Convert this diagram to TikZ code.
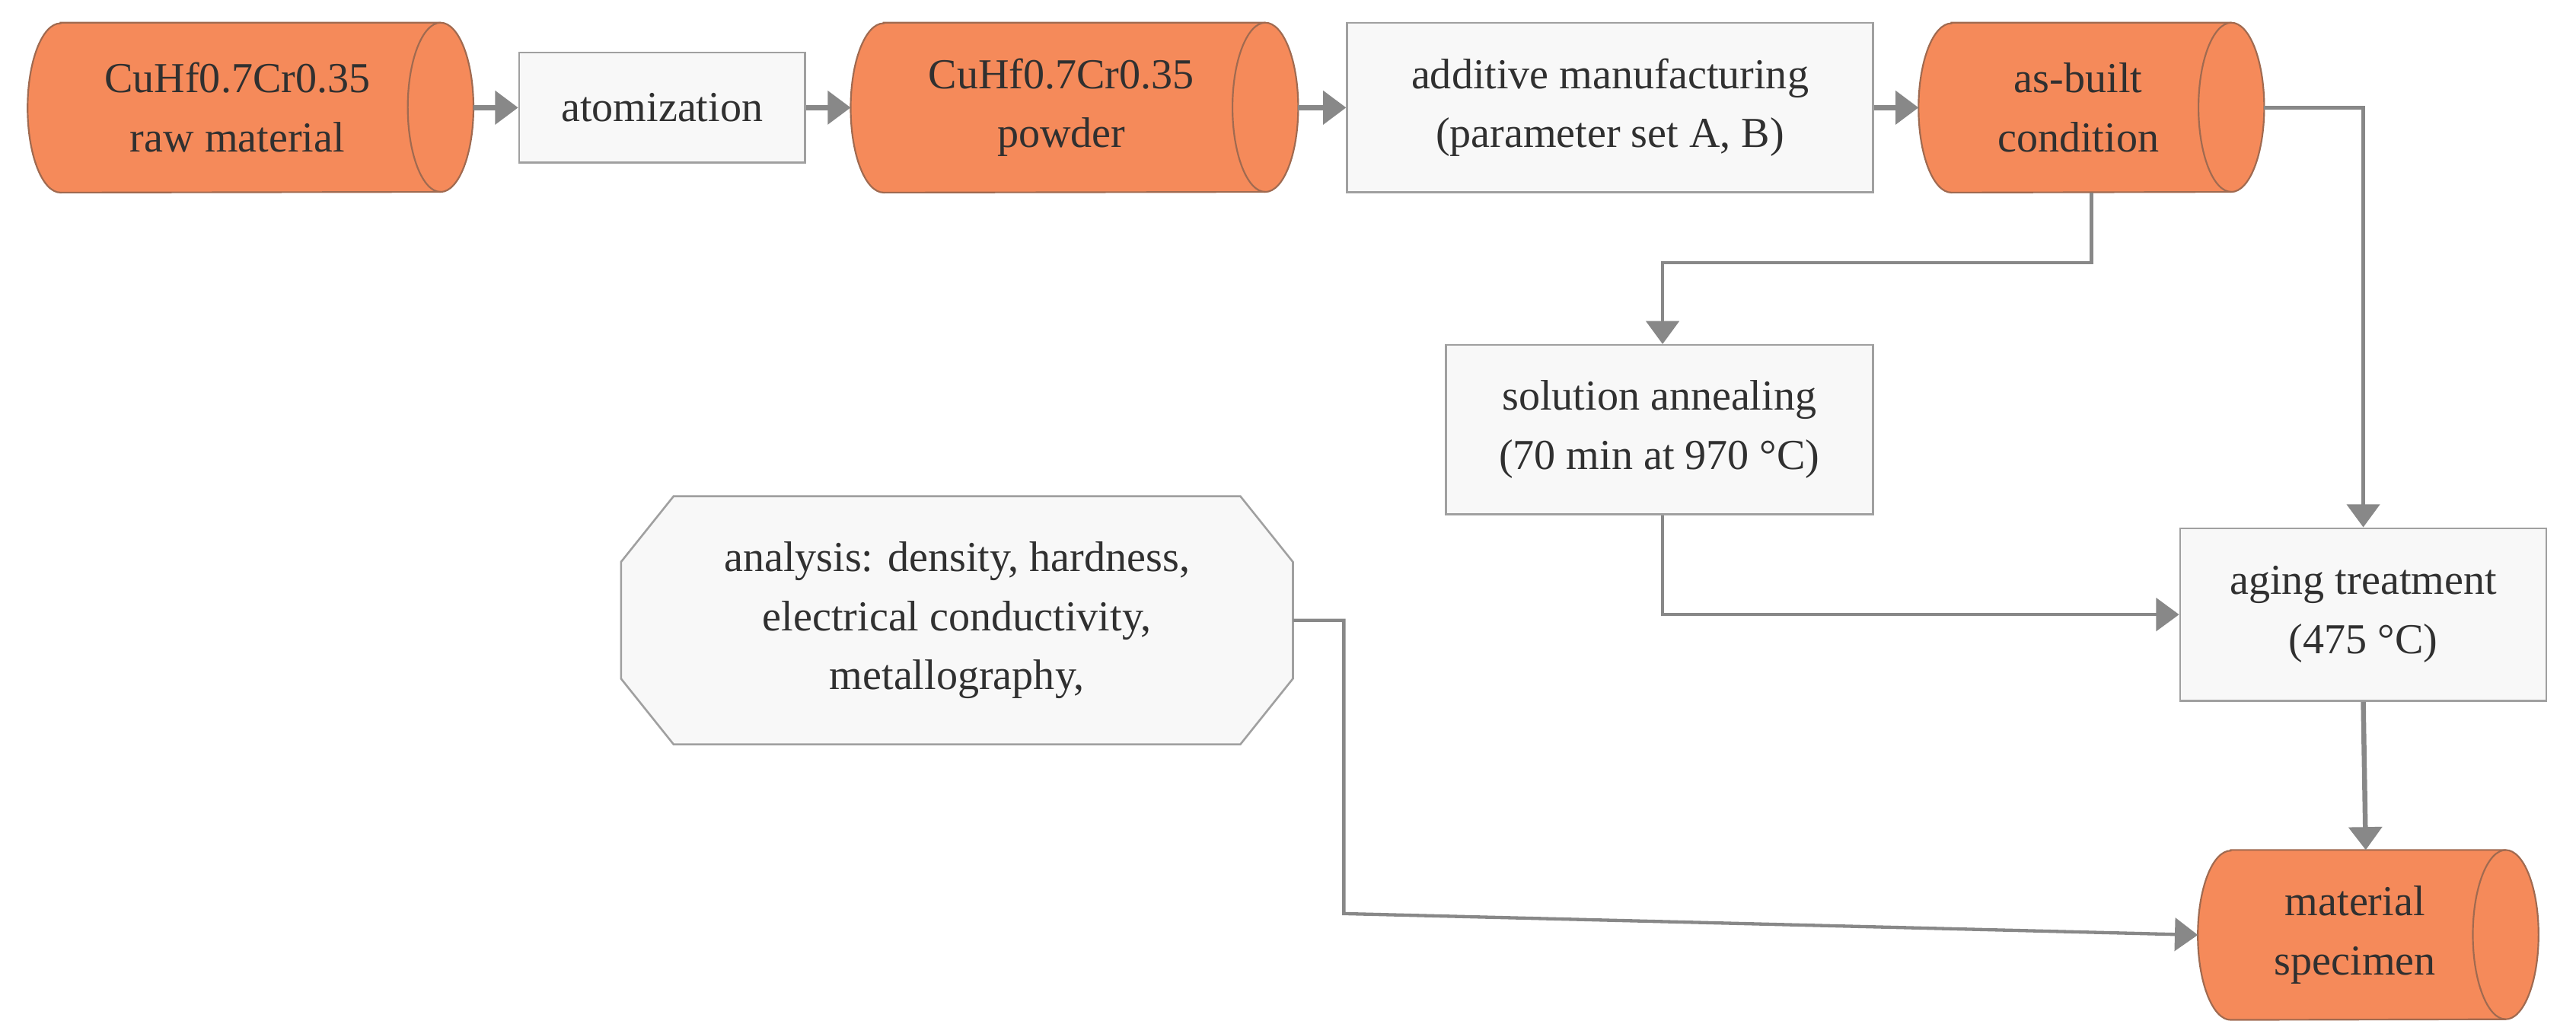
\documentclass[tikz,border=0pt]{standalone}
\usepackage{fontspec}
\setmainfont{Liberation Serif}
\usetikzlibrary{arrows.meta,shapes.geometric}
\definecolor{cyl}{HTML}{F58A5A}
\definecolor{cylb}{HTML}{A06A50}
\definecolor{boxf}{HTML}{F8F8F8}
\definecolor{boxb}{HTML}{A0A0A0}
\definecolor{arr}{HTML}{888888}
\definecolor{txt}{HTML}{303030}
\newcommand{\mycyl}[1]{%
  \fill[cyl,draw=cylb,line width=1pt] ([xshift=20pt]#1.north west) -- ([xshift=-20pt]#1.north east)
    arc[start angle=90,end angle=-90,x radius=20pt,y radius=51.5pt]
    -- ([xshift=20pt]#1.south west)
    arc[start angle=270,end angle=90,x radius=20pt,y radius=51.5pt] -- cycle;
  \draw[cylb,line width=1pt] ([xshift=-20pt]#1.north east)
    arc[start angle=90,end angle=270,x radius=20pt,y radius=51.5pt];
  \node[text=txt,font=\fontsize{26}{36}\selectfont,align=center] at ([xshift=-8pt]#1.center) {\csname cyltext#1\endcsname};}
\begin{document}
\begin{tikzpicture}[x=1pt,y=1pt,
  box/.style={draw=boxb,fill=boxf,line width=1.2pt,align=center,text=txt,font=\fontsize{26}{36}\selectfont,inner sep=0pt},
  cylnode/.style={inner sep=0pt},
  con/.style={draw=arr,line width=3pt,-{Triangle[length=14pt,width=20pt]}}]
\useasboundingbox (0,0) rectangle (1568,621);
% cylinder placeholders
\node[cylnode,minimum width=271pt,minimum height=103pt] (c1) at (152.5,555.5) {};
\node[cylnode,minimum width=272pt,minimum height=103pt] (c2) at (654,555.5) {};
\node[cylnode,minimum width=210pt,minimum height=103pt] (c3) at (1273,555.5) {};
\node[cylnode,minimum width=207pt,minimum height=103pt] (c4) at (1441.5,52) {};
\expandafter\def\csname cyltextc1\endcsname{CuHf0.7Cr0.35\\raw material}
\expandafter\def\csname cyltextc2\endcsname{CuHf0.7Cr0.35\\powder}
\expandafter\def\csname cyltextc3\endcsname{as-built\\condition}
\expandafter\def\csname cyltextc4\endcsname{material\\specimen}
\mycyl{c1}\mycyl{c2}\mycyl{c3}\mycyl{c4}
\node[box,minimum width=174pt,minimum height=67pt] (at) at (403,555.5) {atomization};
\node[box,minimum width=320pt,minimum height=103pt] (am) at (980,555.5) {additive manufacturing\\(parameter set A, B)};
\node[box,minimum width=260pt,minimum height=103pt] (sa) at (1010,359.5) {solution annealing\\(70 min at 970 °C)};
\node[box,minimum width=223pt,minimum height=105pt] (ag) at (1438.5,247) {aging treatment\\(475 °C)};
\coordinate (o) at (582.5,243.5);
\draw[boxb,fill=boxf,line width=1.2pt] (410,319) -- (755,319) -- (787,279) -- (787,208) -- (755,168) -- (410,168) -- (378,208) -- (378,279) -- cycle;
\node[text=txt,font=\fontsize{26}{36}\selectfont,align=center,inner sep=0pt,minimum width=409pt,minimum height=151pt] (an) at (o) {analysis: density, hardness,\\electrical conductivity,\\metallography,};
% connectors
\draw[con] (c1.east) -- (at.west);
\draw[con] (at.east) -- (c2.west);
\draw[con] (c2.east) -- (am.west);
\draw[con] (am.east) -- (c3.west);
\draw[con,line width=2pt] (c3.east) -| (ag.north);
\draw[con,line width=2pt] (c3.south) |- (1012,461) -- ([xshift=2pt]sa.north);
\draw[con,line width=2pt] ([xshift=2pt]sa.south) |- (ag.west);
\draw[con] (ag.south) -- ([xshift=-1.5pt]c4.north);
\draw[con,line width=2pt] (an.east) -| (818,65) -- (c4.west);
\end{tikzpicture}
\end{document}
